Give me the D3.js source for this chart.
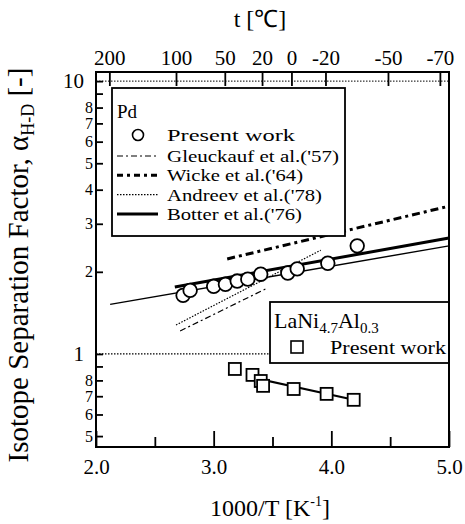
<!DOCTYPE html>
<html lang="en">
<head>
  <meta charset="UTF-8">
  <title>Isotope Separation Factor</title>
  <script src="https://d3js.org/d3.v7.min.js"></script>
  <style>
    body { margin: 0; background: #fff; }
    svg { display: block; font-family: "Liberation Serif", "Times New Roman", serif; }
    .axis path { display: none; }
    .axis line { stroke: #000; stroke-width: 1.8px; }
    .axis text { fill: #000; font-family: "Liberation Serif", serif; }
  </style>
</head>
<body>
  <div id="chart"></div>

  <script>
    // ------------------------ Data ------------------------

    // Pd, present work (open circles)
    const pdX = [2.74, 2.80, 3.00, 3.10, 3.20, 3.29, 3.40, 3.63, 3.71, 3.97, 4.22];
    const pdY = [1.64, 1.71, 1.77, 1.80, 1.85, 1.88, 1.96, 1.98, 2.05, 2.15, 2.49];

    // LaNi4.7Al0.3, present work (open squares)
    const laX = [3.18, 3.33, 3.40, 3.42, 3.68, 3.96, 4.19];
    const laY = [0.881, 0.838, 0.796, 0.764, 0.744, 0.714, 0.679];

    // literature lines (end points)
    const gleuckaufX = [2.715, 3.44], gleuckaufY = [1.214, 1.73];
    const wickeX = [3.115, 5.0], wickeY = [2.23, 3.48];
    const andreevX = [2.68, 3.91], andreevY = [1.277, 2.40];
    const botterX = [2.67, 5.0], botterY = [1.76, 2.66];
    const thinX = [2.12, 5.0], thinY = [1.52, 2.49];
    const laFitX = [3.31, 4.19], laFitY = [0.823, 0.679];

    // axes
    const xTicks = [2.0, 2.5, 3.0, 3.5, 4.0, 4.5, 5.0];
    const tTicks = [200, 100, 50, 20, 0, -20, -50, -70];
    const yTicks = [0.5, 0.6, 0.7, 0.8, 0.9, 1, 2, 3, 4, 5, 6, 7, 8, 9, 10];
    const yLabels = {0.5: "5", 0.6: "6", 0.7: "7", 0.8: "8", 1: "1", 2: "2", 3: "3", 4: "4", 5: "5", 6: "6", 7: "7", 8: "8", 10: "10"};

    const legendNames = ["Gleuckauf et al.('57)", "Wicke et al.('64)", "Andreev et al.('78)", "Botter et al.('76)"];

    // ------------------------ Setup ------------------------

    const W = 465, H = 524;
    const plot = { left: 96, right: 449, top: 72, bottom: 447 };

    const svg = d3.select("#chart").append("svg")
      .attr("width", W).attr("height", H);

    const x = d3.scaleLinear().domain([2, 5]).range([plot.left, plot.right]);
    const y = d3.scaleLog().domain([0.456, 10.8]).range([plot.bottom, plot.top]);

    const line = d3.line().x(d => x(d[0])).y(d => y(d[1]));
    const pts = (xs, ys) => xs.map((v, i) => [v, ys[i]]);

    // ------------------------ Reference dotted lines ------------------------

    svg.append("line")
      .attr("x1", plot.left).attr("x2", plot.right)
      .attr("y1", y(10)).attr("y2", y(10))
      .attr("stroke", "#000").attr("stroke-width", 1).attr("stroke-dasharray", "1.5,1.5");

    svg.append("line")
      .attr("x1", plot.left).attr("x2", 270)
      .attr("y1", y(1)).attr("y2", y(1))
      .attr("stroke", "#000").attr("stroke-width", 1.2).attr("stroke-dasharray", "1.5,1.5");

    // ------------------------ Lines ------------------------

    svg.append("path").datum(pts(thinX, thinY))
      .attr("d", line).attr("fill", "none").attr("stroke", "#000").attr("stroke-width", 1.4);

    svg.append("path").datum(pts(botterX, botterY))
      .attr("d", line).attr("fill", "none").attr("stroke", "#000").attr("stroke-width", 3);

    svg.append("path").datum(pts(wickeX, wickeY))
      .attr("d", line).attr("fill", "none").attr("stroke", "#000").attr("stroke-width", 3)
      .attr("stroke-dasharray", "8,4,3,4");

    svg.append("path").datum(pts(andreevX, andreevY))
      .attr("d", line).attr("fill", "none").attr("stroke", "#000").attr("stroke-width", 1.2)
      .attr("stroke-dasharray", "1.5,1.5");

    svg.append("path").datum(pts(gleuckaufX, gleuckaufY))
      .attr("d", line).attr("fill", "none").attr("stroke", "#000").attr("stroke-width", 1.2)
      .attr("stroke-dasharray", "6,3,2,3");

    svg.append("path").datum(pts(laFitX, laFitY))
      .attr("d", line).attr("fill", "none").attr("stroke", "#000").attr("stroke-width", 2);

    // ------------------------ Markers ------------------------

    svg.selectAll(".pd").data(pts(pdX, pdY)).enter().append("circle")
      .attr("class", "pd")
      .attr("cx", d => x(d[0])).attr("cy", d => y(d[1])).attr("r", 6.8)
      .attr("fill", "#fff").attr("stroke", "#000").attr("stroke-width", 1.8);

    svg.selectAll(".la").data(pts(laX, laY)).enter().append("rect")
      .attr("class", "la")
      .attr("x", d => x(d[0]) - 6).attr("y", d => y(d[1]) - 6)
      .attr("width", 12).attr("height", 12)
      .attr("fill", "#fff").attr("stroke", "#000").attr("stroke-width", 1.8);

    // ------------------------ Legends ------------------------

    const leg = svg.append("g");
    leg.append("rect").attr("x", 112).attr("y", 88).attr("width", 233).attr("height", 148)
      .attr("fill", "#fff").attr("stroke", "#000").attr("stroke-width", 1.8);
    leg.append("text").attr("x", 117).attr("y", 118).attr("font-size", 19).text("Pd");
    leg.append("circle").attr("cx", 138).attr("cy", 135).attr("r", 5.5)
      .attr("fill", "#fff").attr("stroke", "#000").attr("stroke-width", 1.6);
    leg.append("text").attr("x", 167).attr("y", 141).attr("font-size", 17.5)
      .attr("textLength", 128).attr("lengthAdjust", "spacingAndGlyphs").text("Present work");

    const legStyles = [
      { w: 1.2, dash: "6,3,2,3", len: 172 },
      { w: 3, dash: "6,4,3,4", len: 136 },
      { w: 1.2, dash: "1.5,1.5", len: 155 },
      { w: 3, dash: null, len: 135 }
    ];
    legendNames.forEach((name, i) => {
      const by = 162 + i * 19.3;
      leg.append("line").attr("x1", 117).attr("x2", 158).attr("y1", by - 6).attr("y2", by - 6)
        .attr("stroke", "#000").attr("stroke-width", legStyles[i].w)
        .attr("stroke-dasharray", legStyles[i].dash);
      leg.append("text").attr("x", 167).attr("y", by).attr("font-size", 17.5)
        .attr("textLength", legStyles[i].len).attr("lengthAdjust", "spacingAndGlyphs").text(name);
    });

    const leg2 = svg.append("g");
    leg2.append("rect").attr("x", 270).attr("y", 302).attr("width", 179).attr("height", 61)
      .attr("fill", "#fff").attr("stroke", "#000").attr("stroke-width", 1.8);
    const laText = leg2.append("text").attr("x", 274).attr("y", 328).attr("font-size", 22);
    laText.append("tspan").text("LaNi");
    laText.append("tspan").attr("font-size", 15).attr("dy", 5).text("4.7");
    laText.append("tspan").attr("dy", -5).text("Al");
    laText.append("tspan").attr("font-size", 15).attr("dy", 5).text("0.3");
    leg2.append("rect").attr("x", 291).attr("y", 341).attr("width", 12).attr("height", 12)
      .attr("fill", "#fff").attr("stroke", "#000").attr("stroke-width", 1.6);
    leg2.append("text").attr("x", 330).attr("y", 354).attr("font-size", 19)
      .attr("textLength", 116).attr("lengthAdjust", "spacingAndGlyphs").text("Present work");

    // ------------------------ Axes ------------------------

    const yAxis = svg.append("g").attr("class", "axis")
      .attr("transform", `translate(${plot.left},0)`)
      .call(d3.axisLeft(y).tickValues(yTicks).tickSizeInner(-7).tickSizeOuter(0).tickPadding(3)
        .tickFormat(d => yLabels[d] || ""));
    yAxis.selectAll("text")
      .attr("font-size", d => (d === 1 || d === 10) ? 21 : 16)
      .attr("x", d => (d === 1 || d === 10) ? -12 : -3);

    const xAxis = svg.append("g").attr("class", "axis")
      .attr("transform", `translate(0,${plot.bottom})`)
      .call(d3.axisBottom(x).tickValues(xTicks).tickSizeInner(-15).tickSizeOuter(0).tickPadding(12)
        .tickFormat(d => Number.isInteger(d) ? d3.format(".1f")(d) : ""));
    xAxis.selectAll(".tick line").attr("y2", d => Number.isInteger(d) ? -16 : -10);
    xAxis.selectAll("text").attr("font-size", 21);

    const topAxis = svg.append("g").attr("class", "axis")
      .attr("transform", `translate(0,${plot.top})`)
      .call(d3.axisTop(x).tickValues(tTicks.map(t => 1000 / (t + 273.15)))
        .tickSizeInner(-14).tickSizeOuter(0).tickPadding(7)
        .tickFormat((d, i) => tTicks[i]));
    topAxis.selectAll("text").attr("font-size", 21);

    // frame
    svg.append("rect")
      .attr("x", plot.left).attr("y", plot.top)
      .attr("width", plot.right - plot.left).attr("height", plot.bottom - plot.top)
      .attr("fill", "none").attr("stroke", "#000").attr("stroke-width", 2);

    // ------------------------ Titles ------------------------

    svg.append("text").attr("x", 260).attr("y", 27).attr("text-anchor", "middle")
      .attr("font-size", 24).text("t  [\u2103]");

    const xTitle = svg.append("text").attr("x", 270).attr("y", 516).attr("text-anchor", "middle")
      .attr("font-size", 24);
    xTitle.append("tspan").text("1000/T  [K");
    xTitle.append("tspan").attr("font-size", 14).attr("dy", -10).text("-1");
    xTitle.append("tspan").attr("dy", 10).text("]");

    const yTitle = svg.append("text")
      .attr("transform", "translate(28,265) rotate(-90)")
      .attr("text-anchor", "middle").attr("font-size", 29);
    yTitle.append("tspan").text("Isotope Separation Factor, \u03b1");
    yTitle.append("tspan").attr("font-size", 18).attr("dy", 6).text("H-D");
    yTitle.append("tspan").attr("dy", -6).text(" [-]");
  </script>
</body>
</html>
